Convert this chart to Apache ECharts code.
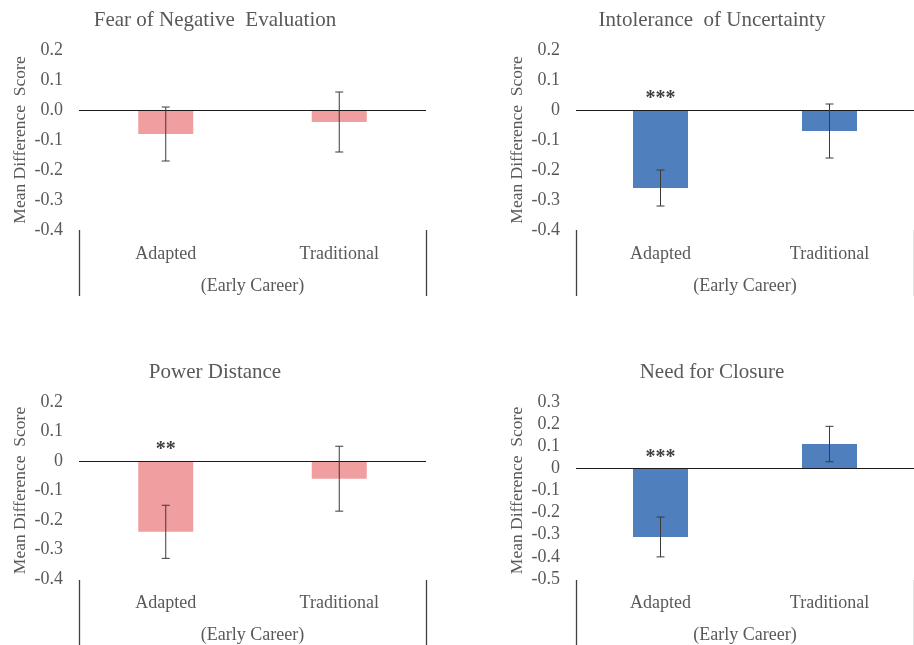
<!DOCTYPE html>
<html>
<head>
<meta charset="utf-8">
<script src="https://cdn.jsdelivr.net/npm/echarts@6/dist/echarts.min.js"></script>
<style>html,body{margin:0;padding:0;background:#fff}#c{width:914px;height:645px}</style>
</head>
<body>
<div id="c"></div>
<script>
// ---- data ----
var categories = ['Adapted', 'Traditional'];
var groupLabel = '(Early Career)';
var yAxisTitle = 'Mean Difference  Score';

var titles = ['Fear of Negative  Evaluation', 'Intolerance  of Uncertainty', 'Power Distance', 'Need for Closure'];

var fneMeans = [-0.08, -0.04];
var fneErrors = [0.09, 0.10];
var fneStars = ['', ''];

var iouMeans = [-0.26, -0.07];
var iouErrors = [0.06, 0.09];
var iouStars = ['***', ''];

var pdMeans = [-0.24, -0.06];
var pdErrors = [0.09, 0.11];
var pdStars = ['**', ''];

var nfcMeans = [-0.31, 0.11];
var nfcErrors = [0.09, 0.08];
var nfcStars = ['***', ''];

var yMin = [-0.4, -0.4, -0.4, -0.5];
var yMax = [0.2, 0.2, 0.2, 0.3];
var yStep = 0.1;

// ---- styling / layout ----
var FONT = 'Liberation Serif';
var TXT = '#595959';
var PINK = '#F09EA0';
var BLUE = '#4F7FBC';

var panels = [
  {means: fneMeans, errs: fneErrors, stars: fneStars, color: PINK, left: 79, width: 347, top: 50, height: 180, sepH: 66, tx: 215, ty: 10, fixed: true},
  {means: iouMeans, errs: iouErrors, stars: iouStars, color: BLUE, left: 576, width: 346, top: 50, height: 180, sepH: 66, tx: 712, ty: 10, fixed: false},
  {means: pdMeans, errs: pdErrors, stars: pdStars, color: PINK, left: 79, width: 347, top: 402, height: 178, sepH: 65, tx: 215, ty: 362, fixed: false},
  {means: nfcMeans, errs: nfcErrors, stars: nfcStars, color: BLUE, left: 576, width: 346, top: 402, height: 178, sepH: 65, tx: 712, ty: 362, fixed: false}
];

var option = {
  backgroundColor: '#fff',
  animation: false,
  textStyle: {fontFamily: FONT},
  title: [], grid: [], xAxis: [], yAxis: [], series: []
};

panels.forEach(function (p, k) {
  option.title.push({
    text: titles[k], left: p.tx, top: p.ty, textAlign: 'center', padding: 0,
    textStyle: {fontFamily: FONT, fontSize: 21, fontWeight: 'normal', color: TXT}
  });
  option.grid.push({left: p.left, width: p.width, top: p.top, height: p.height, containLabel: false});
  option.grid.push({left: p.left, width: p.width, top: p.top + p.height, height: p.sepH, containLabel: false});

  var gi = 2 * k;
  option.xAxis.push({
    type: 'category', gridIndex: gi, data: categories, position: 'bottom',
    axisLine: {show: false}, axisTick: {show: false}, splitLine: {show: false},
    axisLabel: {color: TXT, fontSize: 18, fontFamily: FONT, margin: 15},
    name: groupLabel, nameLocation: 'middle', nameGap: 47,
    nameTextStyle: {color: TXT, fontSize: 18, fontFamily: FONT}
  });
  option.xAxis.push({
    type: 'value', gridIndex: gi + 1, min: 0, max: 1, interval: 1,
    axisLine: {show: false}, axisTick: {show: false}, axisLabel: {show: false},
    splitLine: {show: true, lineStyle: {color: '#404040', width: 1.3}}
  });
  var fixed = p.fixed;
  option.yAxis.push({
    type: 'value', gridIndex: gi, min: yMin[k], max: yMax[k], interval: yStep,
    axisLine: {show: false}, axisTick: {show: false}, splitLine: {show: false},
    axisLabel: {
      color: TXT, fontSize: 18, fontFamily: FONT, margin: 16,
      formatter: function (v) {
        if (Math.abs(v) < 1e-9) return fixed ? '0.0' : '0';
        return v.toFixed(1);
      }
    },
    name: yAxisTitle, nameLocation: 'middle', nameGap: 50, nameRotate: 90,
    nameTextStyle: {color: TXT, fontSize: 17.5, fontFamily: FONT}
  });
  option.yAxis.push({
    type: 'value', gridIndex: gi + 1, min: 0, max: 1, show: false
  });

  option.series.push({
    type: 'bar', xAxisIndex: gi, yAxisIndex: gi, data: p.means, barWidth: 55,
    itemStyle: {color: p.color}, silent: true,
    markLine: {
      silent: true, symbol: 'none', label: {show: false},
      lineStyle: {color: '#1a1a1a', width: 1.2, type: 'solid'},
      data: [{yAxis: 0}]
    }
  });
  var stars = p.stars;
  option.series.push({
    type: 'custom', xAxisIndex: gi, yAxisIndex: gi, z: 5, silent: true,
    data: categories.map(function (c, i) { return [i, p.means[i] - p.errs[i], p.means[i] + p.errs[i]]; }),
    renderItem: function (params, api) {
      var i = api.value(0);
      var lo = api.coord([i, api.value(1)]);
      var hi = api.coord([i, api.value(2)]);
      var z0 = api.coord([i, 0]);
      var cap = 4;
      var st = {stroke: '#3a3a3a', lineWidth: 1};
      var children = [
        {type: 'line', shape: {x1: hi[0], y1: hi[1], x2: lo[0], y2: lo[1]}, style: st},
        {type: 'line', shape: {x1: hi[0] - cap, y1: hi[1], x2: hi[0] + cap, y2: hi[1]}, style: st},
        {type: 'line', shape: {x1: lo[0] - cap, y1: lo[1], x2: lo[0] + cap, y2: lo[1]}, style: st}
      ];
      var s = stars[params.dataIndex];
      if (s) {
        children.push({
          type: 'text', x: z0[0], y: z0[1] - 1,
          style: {text: s, fill: '#404040', font: 'bold 20px ' + FONT, textAlign: 'center', textVerticalAlign: 'bottom'}
        });
      }
      return {type: 'group', children: children};
    }
  });
});

var chart = echarts.init(document.getElementById('c'), null, {renderer: 'canvas'});
chart.setOption(option);
</script>
</body>
</html>
